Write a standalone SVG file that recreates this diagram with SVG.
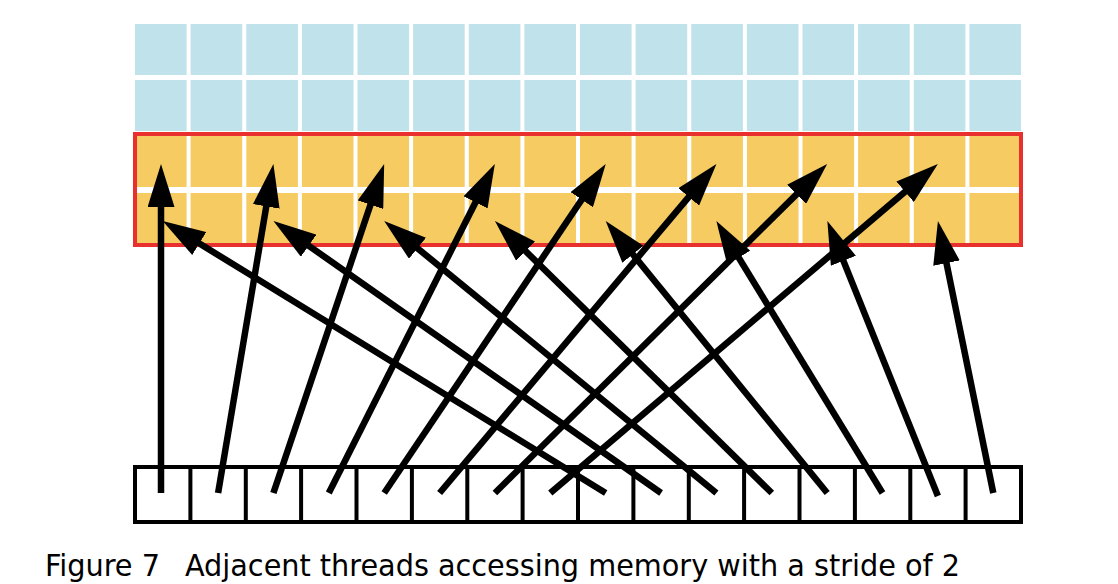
<svg xmlns="http://www.w3.org/2000/svg" width="1118" height="584" viewBox="0 0 1118 584">
<defs>
<style>
.b{fill:#C0E2EB}
.o{fill:#F6CB62}
.arr{stroke:#000;stroke-width:6.5;fill:none;marker-end:url(#ah)}
.cap{font-family:"DejaVu Sans Condensed","DejaVu Sans",sans-serif;font-stretch:condensed;font-size:31px;fill:#000}
</style>
<marker id="ah" viewBox="0 0 43 27" refX="8" refY="13.5" markerWidth="43" markerHeight="27" markerUnits="userSpaceOnUse" orient="auto">
<path d="M0,0 L43,13.5 L0,27 z" fill="#000"/>
</marker>
<g id="rowcells">
<rect x="135" y="0" width="51.6" height="51"/><rect x="190.6" y="0" width="51.6" height="51"/><rect x="246.3" y="0" width="51.6" height="51"/><rect x="301.9" y="0" width="51.6" height="51"/><rect x="357.5" y="0" width="51.6" height="51"/><rect x="413.1" y="0" width="51.6" height="51"/><rect x="468.8" y="0" width="51.6" height="51"/><rect x="524.4" y="0" width="51.6" height="51"/><rect x="580" y="0" width="51.6" height="51"/><rect x="635.6" y="0" width="51.6" height="51"/><rect x="691.3" y="0" width="51.6" height="51"/><rect x="746.9" y="0" width="51.6" height="51"/><rect x="802.5" y="0" width="51.6" height="51"/><rect x="858.1" y="0" width="51.6" height="51"/><rect x="913.8" y="0" width="51.6" height="51"/><rect x="969.4" y="0" width="51.6" height="51"/>
</g>
</defs>
<rect width="1118" height="584" fill="#fff"/>
<g id="memory">
<use href="#rowcells" class="b" y="24"/>
<use href="#rowcells" class="b" y="80"/>
<use href="#rowcells" class="o" y="136"/>
<use href="#rowcells" class="o" y="193"/>
<rect x="135" y="134" width="886" height="111" fill="none" stroke="#E8302F" stroke-width="4"/>
</g>
<g id="threads" stroke="#000" stroke-width="4" fill="none">
<rect x="135" y="467" width="886" height="55"/>
<path d="M190.4,467V522M245.8,467V522M301.1,467V522M356.5,467V522M411.9,467V522M467.3,467V522M522.6,467V522M578,467V522M633.4,467V522M688.8,467V522M744.1,467V522M799.5,467V522M854.9,467V522M910.3,467V522M965.6,467V522"/>
</g>
<g id="connectors">
<line class="arr" x1="161" y1="493" x2="161" y2="199"/>
<line class="arr" x1="218.1" y1="493" x2="267.6" y2="198.5"/>
<line class="arr" x1="273.4" y1="493" x2="373" y2="197.2"/>
<line class="arr" x1="328.8" y1="493" x2="479.1" y2="195.2"/>
<line class="arr" x1="384.2" y1="493" x2="586.2" y2="193"/>
<line class="arr" x1="439.6" y1="493" x2="693.9" y2="190.8"/>
<line class="arr" x1="494.9" y1="493" x2="802.3" y2="188.6"/>
<line class="arr" x1="550.3" y1="493" x2="911.2" y2="186.6"/>
<line class="arr" x1="605.7" y1="493" x2="192.5" y2="239.3"/>
<line class="arr" x1="661.1" y1="493" x2="302.1" y2="241.1"/>
<line class="arr" x1="716.4" y1="493" x2="411.3" y2="243.2"/>
<line class="arr" x1="771.8" y1="493" x2="519.9" y2="245.5"/>
<line class="arr" x1="827.2" y1="493" x2="627.8" y2="248.1"/>
<line class="arr" x1="882.5" y1="493" x2="734.6" y2="250.9"/>
<line class="arr" x1="937.9" y1="496" x2="840.4" y2="253.4"/>
<line class="arr" x1="993.3" y1="493" x2="944.9" y2="255.3"/>
</g>
<g id="caption">
<text class="cap" x="45" y="576" textLength="115" lengthAdjust="spacingAndGlyphs">Figure 7</text>
<text class="cap" x="185" y="576" textLength="775" lengthAdjust="spacingAndGlyphs">Adjacent threads accessing memory with a stride of 2</text>
</g>
</svg>
